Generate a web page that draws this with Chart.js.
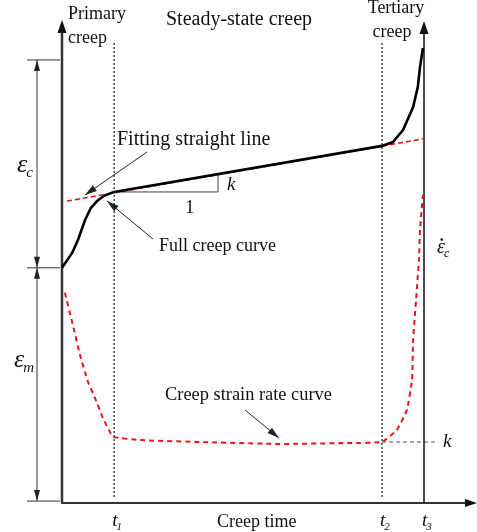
<!DOCTYPE html>
<html>
<head>
<meta charset="utf-8">
<script src="https://cdn.jsdelivr.net/npm/chart.js@4.4.1/dist/chart.umd.min.js"></script>
<style>
  html, body { margin: 0; padding: 0; background: #fff; }
  canvas { display: block; }
</style>
</head>
<body>
<canvas id="creep" width="477" height="532"></canvas>
<script>
// ── Data (time in % of rupture time t3, strain / rate in arbitrary units) ──

// full creep curve: primary bend, straight steady-state part, tertiary upturn
const creepT      = [0, 2.8, 4.4, 6.4, 8.0, 9.7, 11.6, 13.3, 14.4, 88.4, 91.4, 94.2, 97.0, 98.3, 98.9, 99.7];
const creepStrain = [49.0, 52.1, 54.8, 59.0, 61.5, 62.9, 64.0, 64.5, 64.8, 74.4, 75.2, 77.7, 82.5, 86.7, 90.8, 94.8];

// straight line fitted to the steady-state stage
const fitT      = [1.4, 100];
const fitStrain = [62.9, 75.9];

// creep strain rate curve (right axis)
const rateT   = [0.8, 2.8, 5.0, 7.2, 9.1, 11.3, 14.1, 21.6, 38.1, 60.2, 79.6, 88.4, 92.5, 95.3, 96.7, 97.0, 97.8, 98.6, 98.9, 99.7];
const rateVal = [43.8, 37.7, 30.8, 25.2, 21.9, 17.7, 13.8, 13.1, 12.7, 12.3, 12.5, 12.7, 15.2, 19.4, 25.6, 34.0, 42.3, 50.6, 56.9, 64.2];

// stage boundaries and their tick labels
const stageT      = [14.4, 88.4, 100];
const stageLabels = ["1", "2", "3"];

const steadyRate   = 12.7;   // k on the rate axis
const instantLevel = 49.0;   // end of instantaneous strain (εm)
const totalLevel   = 92.3;   // top of creep strain (εc)
const slopeRunEnd  = 43.1;   // where the "1" leg of the slope triangle ends

const RED = "#e8141c";
const SERIF = "'Liberation Serif', 'DejaVu Serif', serif";

// ── Drawing helpers ────────────────────────────────────────────────────────

function line(ctx, x1, y1, x2, y2, color, width, dash) {
  ctx.save();
  ctx.strokeStyle = color;
  ctx.lineWidth = width;
  ctx.setLineDash(dash || []);
  ctx.beginPath();
  ctx.moveTo(x1, y1);
  ctx.lineTo(x2, y2);
  ctx.stroke();
  ctx.restore();
}

function head(ctx, x1, y1, x2, y2, len, half, color) {
  const a = Math.atan2(y2 - y1, x2 - x1);
  ctx.save();
  ctx.fillStyle = color;
  ctx.translate(x2, y2);
  ctx.rotate(a);
  ctx.beginPath();
  ctx.moveTo(0, 0);
  ctx.lineTo(-len, -half);
  ctx.lineTo(-len, half);
  ctx.closePath();
  ctx.fill();
  ctx.restore();
}

function arrow(ctx, x1, y1, x2, y2, color, width, len, half) {
  line(ctx, x1, y1, x2, y2, color, width);
  head(ctx, x1, y1, x2, y2, len, half, color);
}

function text(ctx, str, x, y, opts) {
  opts = opts || {};
  ctx.save();
  ctx.font = `${opts.italic ? "italic " : ""}${opts.size || 18}px ${SERIF}`;
  ctx.fillStyle = opts.color || "#111";
  ctx.textAlign = opts.align || "left";
  ctx.textBaseline = "middle";
  ctx.fillText(str, x, y);
  ctx.restore();
}

// italic symbol with small italic subscript
function symbol(ctx, main, sub, x, y, size, dot) {
  ctx.save();
  ctx.font = `italic ${size}px ${SERIF}`;
  ctx.fillStyle = "#111";
  ctx.textBaseline = "middle";
  ctx.textAlign = "left";
  ctx.fillText(main, x, y);
  const w = ctx.measureText(main).width;
  if (dot) {
    ctx.beginPath();
    ctx.arc(x + w * 0.6, y - size * 0.42, 1.3, 0, Math.PI * 2);
    ctx.fill();
  }
  ctx.font = `italic ${Math.round(size * 0.58)}px ${SERIF}`;
  ctx.fillText(sub, x + w - 1, y + size * 0.3);
  ctx.restore();
}

// ── Axes, guides and annotations ───────────────────────────────────────────

const decor = {
  id: "decor",
  beforeDatasetsDraw(chart) {
    const { ctx, scales: { x, y, rate } } = chart;
    const x0 = x.getPixelForValue(0);
    const yb = y.getPixelForValue(0);
    const x3 = x.getPixelForValue(stageT[2]);

    // stage boundaries t1, t2
    [stageT[0], stageT[1]].forEach(t => {
      const px = x.getPixelForValue(t);
      line(ctx, px, 43, px, yb - 5, "#000", 1.1, [2, 2]);
    });

    // slope triangle under the fitted line
    const sx1 = x.getPixelForValue(stageT[0]);
    const sx2 = x.getPixelForValue(slopeRunEnd);
    const sy  = y.getPixelForValue(creepStrain[8]);
    const fy  = y.getPixelForValue(fitStrain[0] + (slopeRunEnd - fitT[0]) * (fitStrain[1] - fitStrain[0]) / (fitT[1] - fitT[0]));
    line(ctx, sx1, sy, sx2, sy, "#444", 1);
    line(ctx, sx2, sy, sx2, fy + 1, "#444", 1);

    // steady rate level k
    const ky = rate.getPixelForValue(steadyRate);
    line(ctx, x.getPixelForValue(stageT[1]), ky, x.getPixelForValue(103), ky, "#555", 1, [4, 3]);

    // axes
    line(ctx, x0, yb, x0, 30, "#333", 2.5);
    head(ctx, x0, 40, x0, 20, 13, 4.5, "#111");
    line(ctx, x0 - 1, yb, 466, yb, "#333", 2);
    head(ctx, 460, yb, 477, yb, 12, 4, "#111");
    line(ctx, x3, yb, x3, 30, "#111", 1.5);
    head(ctx, x3, 40, x3, 21, 13, 4.5, "#111");

    // dimension lines for εc and εm
    const dx = 37;
    const yTop = y.getPixelForValue(totalLevel);
    const yMid = y.getPixelForValue(instantLevel);
    const yBot = y.getPixelForValue(0.4);
    [yTop, yMid, yBot].forEach(py => line(ctx, 27, py, 60, py, "#333", 1));
    line(ctx, dx, yTop, dx, yBot, "#333", 1);
    head(ctx, dx, yTop + 12, dx, yTop, 11, 3, "#222");
    head(ctx, dx, yMid - 12, dx, yMid, 11, 3, "#222");
    head(ctx, dx, yMid + 12, dx, yMid, 11, 3, "#222");
    head(ctx, dx, yBot - 12, dx, yBot, 11, 3, "#222");
  },

  afterDatasetsDraw(chart) {
    const { ctx, scales: { x, y } } = chart;

    // stage names
    text(ctx, "Primary", 68, 14);
    text(ctx, "creep", 68, 38);
    text(ctx, "Steady-state creep", 239, 20, { align: "center", size: 20 });
    text(ctx, "Tertiary", 396, 8, { align: "center" });
    text(ctx, "creep", 392, 32, { align: "center" });

    // annotations
    text(ctx, "Fitting straight line", 117, 140, { size: 20 });
    arrow(ctx, 147, 152, 85, 195, "#222", 1, 12, 3.5);
    text(ctx, "Full creep curve", 159, 246);
    arrow(ctx, 153, 239, 107, 201, "#222", 1, 12, 3.5);
    text(ctx, "Creep strain rate curve", 165, 395, { size: 18.4 });
    arrow(ctx, 245, 410, 279, 438, "#222", 1, 12, 3.5);

    text(ctx, "k", 227, 185, { italic: true, size: 19 });
    text(ctx, "1", 185, 208, { size: 19 });
    text(ctx, "k", 443, 442, { italic: true, size: 19 });

    // axis symbols
    symbol(ctx, "ε", "c", 17, 165, 26);
    symbol(ctx, "ε", "m", 14, 360, 26);
    symbol(ctx, "ε", "c", 437, 248, 20, true);

    // time axis
    const yb = y.getPixelForValue(0);
    stageT.forEach((t, i) => symbol(ctx, "t", stageLabels[i], x.getPixelForValue(t) - 2, yb + 18, 19));
    text(ctx, "Creep time", 217, yb + 19);
  }
};

// ── Chart ──────────────────────────────────────────────────────────────────

const pts = (xs, ys) => xs.map((t, i) => ({ x: t, y: ys[i] }));

new Chart(document.getElementById("creep"), {
  type: "scatter",
  data: {
    datasets: [
      {
        data: pts(creepT, creepStrain),
        showLine: true, borderColor: "#000", borderWidth: 2.6,
        pointRadius: 0, tension: 0, order: 0, clip: false,
      },
      {
        data: pts(fitT, fitStrain),
        showLine: true, borderColor: RED, borderWidth: 1.6, borderDash: [5, 3],
        pointRadius: 0, order: 1, clip: false,
      },
      {
        data: pts(rateT, rateVal), yAxisID: "rate",
        showLine: true, borderColor: RED, borderWidth: 2, borderDash: [5, 4],
        pointRadius: 0, tension: 0.1, order: 2, clip: false,
      },
    ],
  },
  options: {
    responsive: false,
    animation: false,
    devicePixelRatio: 1,
    layout: { padding: { left: 62, right: 53, top: 23, bottom: 29 } },
    plugins: { legend: { display: false }, tooltip: { enabled: false } },
    scales: {
      x:    { type: "linear", min: 0, max: 100, display: false },
      y:    { type: "linear", min: 0, max: 100, display: false },
      rate: { type: "linear", min: 0, max: 100, display: false, position: "right" },
    },
  },
  plugins: [decor],
});
</script>
</body>
</html>
